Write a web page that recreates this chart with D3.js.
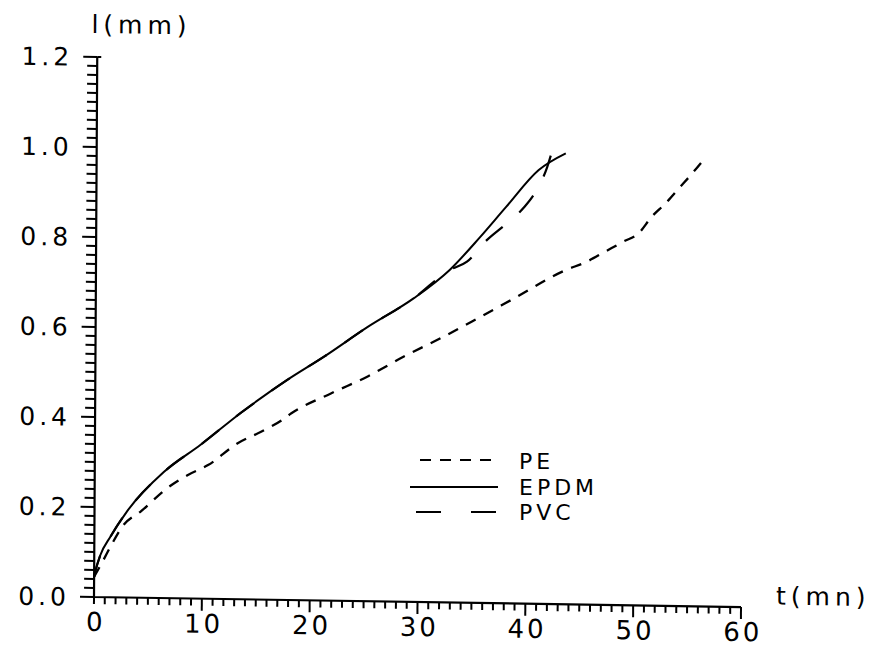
<!DOCTYPE html>
<html><head><meta charset="utf-8">
<script src="https://cdn.jsdelivr.net/npm/d3@7"></script>
<style>
body{margin:0;background:#fff}
text{font-family:"DejaVu Sans",sans-serif;fill:#000}
</style>
</head><body>
<svg id="c" width="873" height="648"></svg>
<script>
// ---- data ----
const peT   = [0, 0.8, 1.6, 2.7, 4.3, 6.7, 8.6, 10.5, 13.2, 15.4, 17.3, 18.2, 21.9, 25.3, 28.6, 32.0, 35.4, 38.5, 43.5, 45.5, 47.2, 48.9, 50.3, 51.5, 52.8, 54.0, 55.1, 56.4];
const peL   = [0.045, 0.08, 0.117, 0.161, 0.192, 0.244, 0.274, 0.297, 0.346, 0.373, 0.399, 0.415, 0.461, 0.500, 0.545, 0.587, 0.632, 0.674, 0.742, 0.762, 0.785, 0.808, 0.827, 0.864, 0.895, 0.928, 0.958, 0.996];
const epdmT = [0, 0.1, 0.56, 1.5, 3.0, 6.4, 9.8, 13.5, 17.8, 21.2, 25.2, 29.5, 32.8, 35.6, 38.0, 41.0, 43.5];
const epdmL = [0.045, 0.056, 0.093, 0.135, 0.191, 0.280, 0.342, 0.414, 0.489, 0.542, 0.609, 0.675, 0.739, 0.813, 0.881, 0.964, 1.002];
const pvcT  = [0, 0.1, 0.56, 1.5, 3.0, 6.4, 9.8, 13.5, 17.8, 21.2, 25.2, 29.5, 32.8, 34.4, 36.2, 37.9, 39.6, 40.8, 41.8, 42.3];
const pvcL  = [0.045, 0.056, 0.093, 0.135, 0.191, 0.280, 0.342, 0.414, 0.489, 0.542, 0.609, 0.675, 0.739, 0.758, 0.806, 0.841, 0.879, 0.919, 0.972, 1.013];
const seriesNames = ["PE", "EPDM", "PVC"];
const xTickValues = [0, 10, 20, 30, 40, 50, 60];
const xTickLabels = ["0", "10", "20", "30", "40", "50", "60"];
const yTickValues = [0, 0.2, 0.4, 0.6, 0.8, 1.0, 1.2];
const yTickLabels = ["0.0", "0.2", "0.4", "0.6", "0.8", "1.0", "1.2"];
const xTitle = "t(mn)";
const yTitle = "l(mm)";

// ---- layout ----
const svg = d3.select("#c");
const ox = 94, oy = 597;
const x = d3.scaleLinear().domain([0, 60]).range([ox, 741]);
const y = d3.scaleLinear().domain([0, 1.2]).range([oy, 57]);

// slight skew of the scanned page
const g = svg.append("g")
  .attr("transform", `translate(${ox},${oy}) matrix(1,0.0155,-0.006,1,0,0) translate(${-ox},${-oy})`);

// tick marks, built from the scales
const yAll = d3.range(0, 61).map(i => ({v: i * 0.02, major: i % 10 === 0}));
const xAll = d3.range(0, 61).map(v => ({v, major: v % 10 === 0}));
g.selectAll("rect.yt").data(yAll).join("rect").attr("class", "yt")
  .attr("x", d => x(0) - (d.major ? 14 : 10)).attr("width", d => d.major ? 14 : 10)
  .attr("y", d => y(d.v) - 1).attr("height", 2).attr("fill", "#000");
g.append("rect").attr("x", x(0)).attr("width", 4).attr("y", y(1.2) - 1).attr("height", 2).attr("fill", "#000");
g.selectAll("rect.xt").data(xAll).join("rect").attr("class", "xt")
  .attr("x", d => x(d.v) - 1).attr("width", 2)
  .attr("y", y(0)).attr("height", d => (d.major && d.v > 0 ? 12 : 7)).attr("fill", "#000");

// axis lines
const axPath = d3.path();
axPath.moveTo(x(0), y(1.2)); axPath.lineTo(x(0), y(0)); axPath.lineTo(x(60), y(0));
g.append("path").attr("d", axPath.toString()).attr("fill", "none").attr("stroke", "#000").attr("stroke-width", 2.2);

// tick labels
g.selectAll("text.yl").data(yTickValues).join("text").attr("class", "yl")
  .attr("x", x(0) - 24).attr("y", d => y(d)).attr("dy", "0.36em")
  .attr("text-anchor", "end").attr("font-size", 25).attr("letter-spacing", 4)
  .text((d, i) => yTickLabels[i]);
g.selectAll("text.xl").data(xTickValues).join("text").attr("class", "xl")
  .attr("x", d => x(d) + 2).attr("y", y(0) + 34)
  .attr("text-anchor", "middle").attr("font-size", 26).attr("letter-spacing", 3)
  .text((d, i) => xTickLabels[i]);

// titles
g.append("text").attr("x", 88).attr("y", 33).attr("font-size", 25).attr("letter-spacing", 5).text(yTitle);
g.append("text").attr("x", 776).attr("y", 594).attr("font-size", 25).attr("letter-spacing", 5).text(xTitle);

// curves
const line = d3.line().x(d => x(d[0])).y(d => y(d[1])).curve(d3.curveMonotoneX);
const series = [
  {name: seriesNames[0], pts: d3.zip(peT, peL), dash: "11,9", w: 2.3},
  {name: seriesNames[1], pts: d3.zip(epdmT, epdmL), dash: null, w: 2},
  {name: seriesNames[2], pts: d3.zip(pvcT, pvcL), dash: "22,22", w: 2.2}
];
series.forEach(s => {
  const p = g.append("path").attr("d", line(s.pts)).attr("fill", "none")
    .attr("stroke", "#000").attr("stroke-width", s.w);
  if (s.dash) p.attr("stroke-dasharray", s.dash);
});

// legend (page coordinates)
const leg = svg.append("g");
const legRows = [
  {x1: 420, x2: 498, y: 460, ty: 469, dash: "11,9"},
  {x1: 410, x2: 498, y: 487, ty: 495, dash: null},
  {x1: 416, x2: 497, y: 512, ty: 520, dash: "25,30"}
];
legRows.forEach((r, i) => {
  const l = leg.append("line").attr("x1", r.x1).attr("x2", r.x2).attr("y1", r.y).attr("y2", r.y)
    .attr("stroke", "#000").attr("stroke-width", 2);
  if (r.dash) l.attr("stroke-dasharray", r.dash);
  leg.append("text").attr("x", 519).attr("y", r.ty).attr("font-size", 22)
    .attr("letter-spacing", 4).text(seriesNames[i]);
});
</script>
</body></html>
